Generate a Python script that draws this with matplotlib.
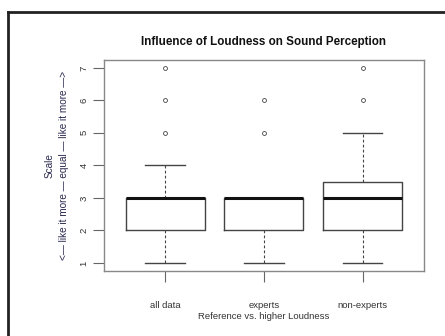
import matplotlib
matplotlib.use("Agg")
import matplotlib.pyplot as plt
from matplotlib.lines import Line2D

plt.rcParams['font.family'] = ['Liberation Sans', 'DejaVu Sans']

# box statistics
groups = ["all data", "experts", "non-experts"]
whisker_low = [1, 1, 1]
q1 = [2, 2, 2]
medians = [3, 3, 3]
q3 = [3, 3, 3.5]
whisker_high = [4, 3, 5]
outliers = [[5, 6, 7], [5, 6], [6, 7]]
y_ticks = [1, 2, 3, 4, 5, 6, 7]

stats = []
for i, name in enumerate(groups):
    stats.append({
        "label": name,
        "whislo": whisker_low[i],
        "q1": q1[i],
        "med": medians[i],
        "q3": q3[i],
        "whishi": whisker_high[i],
        "fliers": outliers[i],
    })

fig = plt.figure(figsize=(4.45, 3.36), dpi=100)
ax = fig.add_axes([0.2337, 0.1943, 0.719, 0.6271])

line_col = "#444444"
ax.bxp(stats, positions=[1, 2, 3], widths=0.8, showfliers=True,
       boxprops=dict(color=line_col, linewidth=1.0),
       medianprops=dict(color="#111111", linewidth=2.2),
       whiskerprops=dict(color=line_col, linewidth=0.8, linestyle=(0, (2.5, 2))),
       capprops=dict(color=line_col, linewidth=1.0),
       capwidths=0.4,
       flierprops=dict(marker="o", markersize=2.8, markerfacecolor="none",
                       markeredgecolor=line_col, markeredgewidth=0.6))

ax.set_xlim(0.38, 3.62)
ax.set_ylim(0.76, 7.24)
ax.set_yticks(y_ticks)
ax.set_yticklabels([str(t) for t in y_ticks], rotation=90, va="center")
ax.set_xticks([1, 2, 3])
ax.set_xticklabels(groups)

for s in ax.spines.values():
    s.set_color("#888888")
    s.set_linewidth(1.0)
ax.tick_params(axis="both", direction="out", length=8, width=0.8,
               color="#666666", labelsize=6.8, labelcolor="#333333")
ax.tick_params(axis="x", pad=14)
ax.tick_params(axis="y", pad=3)

ax.set_xlabel("Reference vs. higher Loudness", fontsize=6.8, color="#333333", labelpad=1)
ax.set_ylabel("Scale\n<\u2014 like it more \u2014 equal \u2014 like it more \u2014>",
              fontsize=7.2, color="#2a2a50", labelpad=8, linespacing=1.55)
ax.set_title("Influence of Loudness on Sound Perception", fontsize=8.4,
             fontweight="bold", color="#111111", pad=11)

# outer frame running off the right and bottom edges
fig.add_artist(Line2D([8 / 445, 8 / 445], [-0.1, 1 - 12 / 336], color="#222222",
                      linewidth=2, transform=fig.transFigure))
fig.add_artist(Line2D([8 / 445, 1.1], [1 - 12 / 336, 1 - 12 / 336], color="#222222",
                      linewidth=2, transform=fig.transFigure))

fig.savefig("out.png", dpi=100)
